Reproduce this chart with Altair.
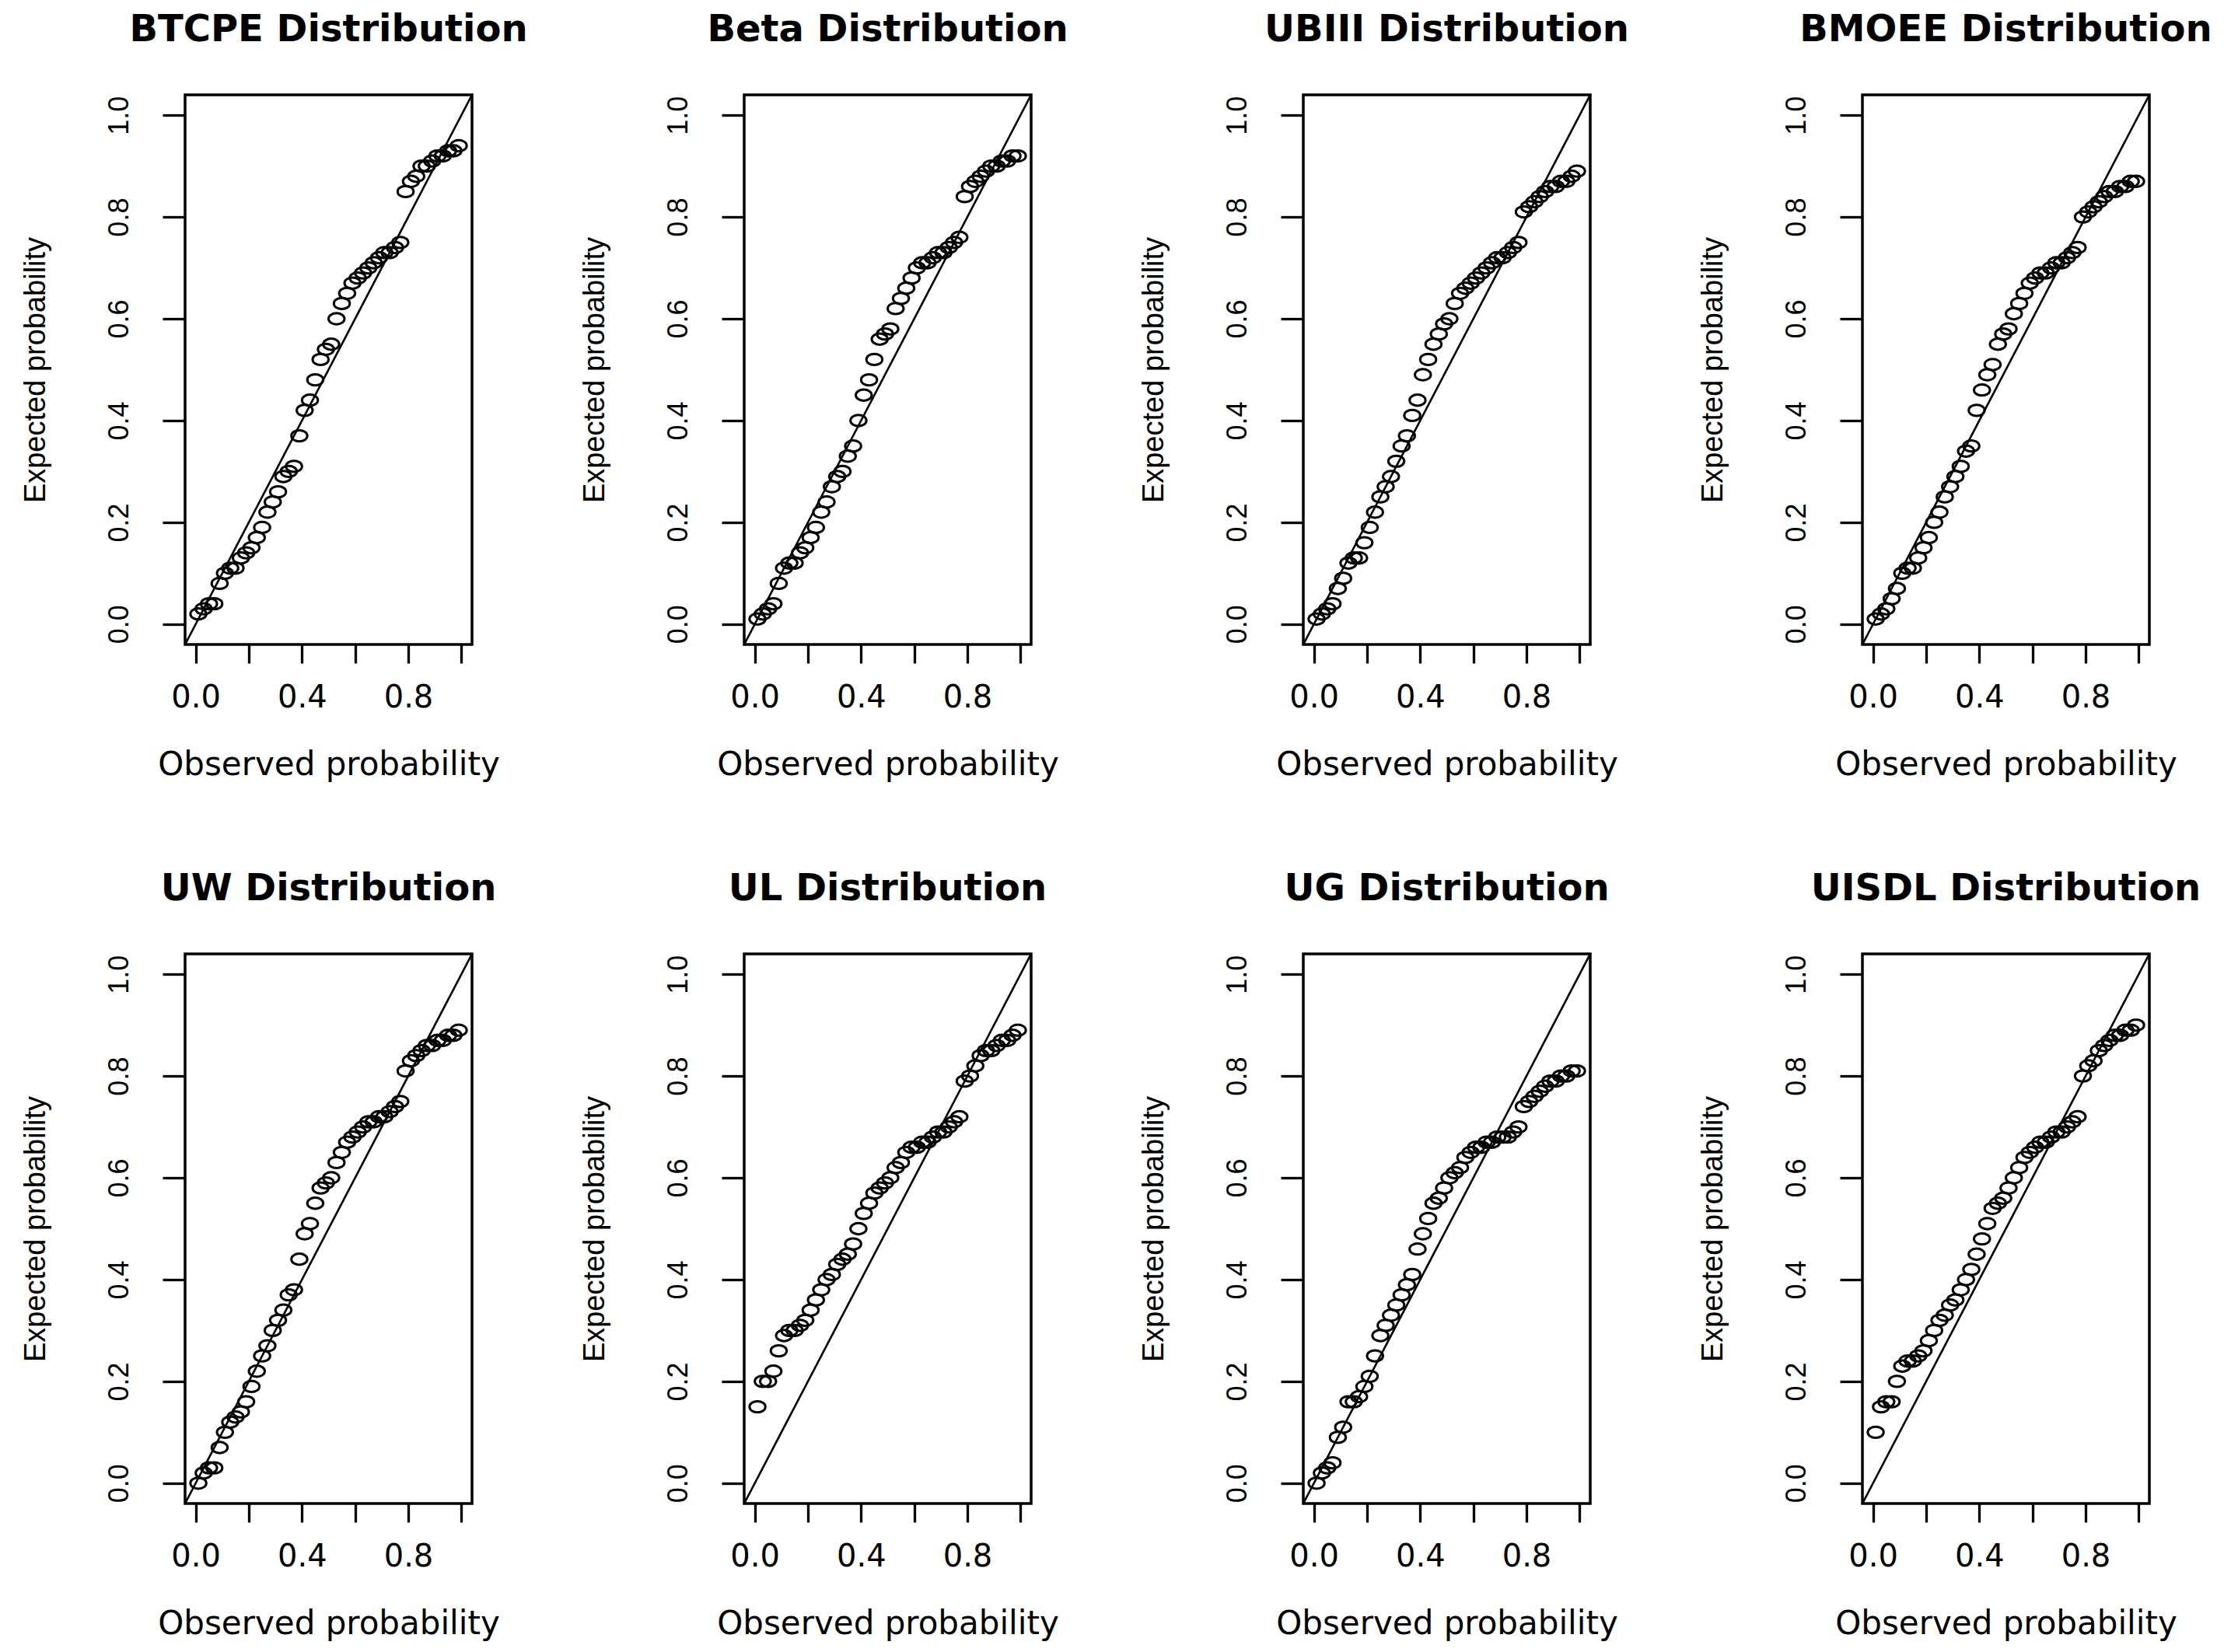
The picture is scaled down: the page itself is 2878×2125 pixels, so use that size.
import altair as alt
import pandas as pd

observed = [0.01, 0.03, 0.05, 0.07, 0.09, 0.11, 0.13, 0.15, 0.17, 0.19,
            0.21, 0.23, 0.25, 0.27, 0.29, 0.31, 0.33, 0.35, 0.37, 0.39,
            0.41, 0.43, 0.45, 0.47, 0.49, 0.51, 0.53, 0.55, 0.57, 0.59,
            0.61, 0.63, 0.65, 0.67, 0.69, 0.71, 0.73, 0.75, 0.77, 0.79,
            0.81, 0.83, 0.85, 0.87, 0.89, 0.91, 0.93, 0.95, 0.97, 0.99]

btcpe = [0.02, 0.03, 0.04, 0.04, 0.08, 0.10, 0.11, 0.11, 0.13, 0.14,
         0.15, 0.17, 0.19, 0.22, 0.24, 0.26, 0.29, 0.30, 0.31, 0.37,
         0.42, 0.44, 0.48, 0.52, 0.54, 0.55, 0.60, 0.63, 0.65, 0.67,
         0.68, 0.69, 0.70, 0.71, 0.72, 0.73, 0.73, 0.74, 0.75, 0.85,
         0.87, 0.88, 0.90, 0.90, 0.91, 0.92, 0.92, 0.93, 0.93, 0.94]

beta = [0.01, 0.02, 0.03, 0.04, 0.08, 0.11, 0.12, 0.12, 0.14, 0.15,
        0.17, 0.19, 0.22, 0.24, 0.27, 0.29, 0.30, 0.33, 0.35, 0.40,
        0.45, 0.48, 0.52, 0.56, 0.57, 0.58, 0.62, 0.64, 0.66, 0.68,
        0.70, 0.71, 0.71, 0.72, 0.73, 0.73, 0.74, 0.75, 0.76, 0.84,
        0.86, 0.87, 0.88, 0.89, 0.90, 0.90, 0.91, 0.91, 0.92, 0.92]

ubiii = [0.01, 0.02, 0.03, 0.04, 0.07, 0.09, 0.12, 0.13, 0.13, 0.16,
         0.19, 0.22, 0.25, 0.27, 0.29, 0.32, 0.35, 0.37, 0.41, 0.44,
         0.49, 0.52, 0.55, 0.57, 0.59, 0.60, 0.63, 0.65, 0.66, 0.67,
         0.68, 0.69, 0.70, 0.71, 0.72, 0.72, 0.73, 0.74, 0.75, 0.81,
         0.82, 0.83, 0.84, 0.85, 0.86, 0.86, 0.87, 0.87, 0.88, 0.89]

bmoee = [0.01, 0.02, 0.03, 0.05, 0.07, 0.10, 0.11, 0.11, 0.13, 0.15,
         0.17, 0.20, 0.22, 0.25, 0.27, 0.29, 0.31, 0.34, 0.35, 0.42,
         0.46, 0.49, 0.51, 0.55, 0.57, 0.58, 0.61, 0.63, 0.65, 0.67,
         0.68, 0.69, 0.69, 0.70, 0.71, 0.71, 0.72, 0.73, 0.74, 0.80,
         0.81, 0.82, 0.83, 0.84, 0.85, 0.85, 0.86, 0.86, 0.87, 0.87]

uw = [0.00, 0.02, 0.03, 0.03, 0.07, 0.10, 0.12, 0.13, 0.14, 0.16,
      0.19, 0.22, 0.25, 0.27, 0.30, 0.32, 0.34, 0.37, 0.38, 0.44,
      0.49, 0.51, 0.55, 0.58, 0.59, 0.60, 0.63, 0.65, 0.67, 0.68,
      0.69, 0.70, 0.71, 0.71, 0.72, 0.72, 0.73, 0.74, 0.75, 0.81,
      0.83, 0.84, 0.85, 0.86, 0.86, 0.87, 0.87, 0.88, 0.88, 0.89]

ul = [0.15, 0.20, 0.20, 0.22, 0.26, 0.29, 0.30, 0.30, 0.31, 0.32,
      0.34, 0.36, 0.38, 0.40, 0.41, 0.43, 0.44, 0.45, 0.47, 0.50,
      0.53, 0.55, 0.57, 0.58, 0.59, 0.60, 0.62, 0.63, 0.65, 0.66,
      0.66, 0.67, 0.67, 0.68, 0.69, 0.69, 0.70, 0.71, 0.72, 0.79,
      0.80, 0.82, 0.84, 0.85, 0.85, 0.86, 0.87, 0.87, 0.88, 0.89]

ug = [0.00, 0.02, 0.03, 0.04, 0.09, 0.11, 0.16, 0.16, 0.17, 0.19,
      0.21, 0.25, 0.29, 0.31, 0.33, 0.35, 0.37, 0.39, 0.41, 0.46,
      0.49, 0.52, 0.55, 0.56, 0.58, 0.60, 0.61, 0.62, 0.64, 0.65,
      0.66, 0.66, 0.67, 0.67, 0.68, 0.68, 0.68, 0.69, 0.70, 0.74,
      0.75, 0.76, 0.77, 0.78, 0.79, 0.79, 0.80, 0.80, 0.81, 0.81]

uisdl = [0.10, 0.15, 0.16, 0.16, 0.20, 0.23, 0.24, 0.24, 0.25, 0.26,
         0.28, 0.30, 0.32, 0.33, 0.35, 0.36, 0.38, 0.40, 0.42, 0.45,
         0.48, 0.51, 0.54, 0.55, 0.56, 0.58, 0.60, 0.62, 0.64, 0.65,
         0.66, 0.67, 0.67, 0.68, 0.69, 0.69, 0.70, 0.71, 0.72, 0.80,
         0.82, 0.83, 0.85, 0.86, 0.87, 0.88, 0.88, 0.89, 0.89, 0.90]

titles = ["BTCPE Distribution", "Beta Distribution", "UBIII Distribution", "BMOEE Distribution",
          "UW Distribution", "UL Distribution", "UG Distribution", "UISDL Distribution"]
series = [btcpe, beta, ubiii, bmoee, uw, ul, ug, uisdl]

diag = [-0.04, 1.04]
tick_values = [0.0, 0.2, 0.4, 0.6, 0.8, 1.0]

ellipse = ("M -1 0 C -1 -0.387 -0.552 -0.7 0 -0.7 C 0.552 -0.7 1 -0.387 1 0 "
           "C 1 0.387 0.552 0.7 0 0.7 C -0.552 0.7 -1 0.387 -1 0 Z")

xscale = alt.Scale(domain=[-0.04, 1.04], nice=False, zero=False)
yscale = alt.Scale(domain=[-0.04, 1.04], nice=False, zero=False)

xaxis = alt.Axis(values=tick_values,
                 labelExpr="(round(datum.value*10) % 4 == 0) ? format(datum.value, '.1f') : ''",
                 domain=False, grid=False, tickSize=24, tickWidth=3.3, tickColor="black",
                 labelFont="DejaVu Sans", labelFontSize=40, labelColor="black",
                 labelPadding=24, labelFlush=False, labelOverlap=False,
                 titleFont="DejaVu Sans", titleFontSize=42, titleFontWeight="normal",
                 titleColor="black", titlePadding=46)

yaxis = alt.Axis(values=tick_values, format=".1f",
                 domain=False, grid=False, tickSize=29, tickWidth=3.3, tickColor="black",
                 labelFont="Liberation Sans", labelFontSize=36, labelColor="black",
                 labelAngle=270, labelAlign="center", labelBaseline="bottom",
                 labelPadding=37, labelFlush=False, labelOverlap=False,
                 titleFont="Liberation Sans", titleFontSize=38, titleFontWeight="normal",
                 titleColor="black", titlePadding=70)


def panel(title, vals):
    df = pd.DataFrame({"obs": observed, "exp": vals})
    ddf = pd.DataFrame({"d": diag})
    line = alt.Chart(ddf).mark_line(color="black", strokeWidth=2.6, clip=True).encode(
        x=alt.X("d:Q", scale=xscale, axis=xaxis, title="Observed probability"),
        y=alt.Y("d:Q", scale=yscale, axis=yaxis, title="Expected probability"),
    )
    pts = alt.Chart(df).mark_point(shape=ellipse, size=420, filled=False, color="black",
                                   strokeWidth=3, opacity=1).encode(
        x=alt.X("obs:Q", scale=xscale, axis=xaxis, title="Observed probability"),
        y=alt.Y("exp:Q", scale=yscale, axis=yaxis, title="Expected probability"),
    )
    return alt.layer(line, pts).properties(
        width=369, height=707,
        title=alt.TitleParams(title, font="DejaVu Sans", fontSize=48, fontWeight="bold",
                              color="black", anchor="middle", offset=59),
    )


panels = [panel(t, v) for t, v in zip(titles, series)]

chart = alt.concat(*panels, columns=4, spacing={"row": 398, "column": 350},
                   bounds="flush").properties(
    padding={"left": 17, "top": 5, "right": 5, "bottom": 5},
    background="white",
).configure_view(stroke="black", strokeWidth=3.5)

chart.save("out.html", embed_options={"renderer": "svg", "actions": False})
